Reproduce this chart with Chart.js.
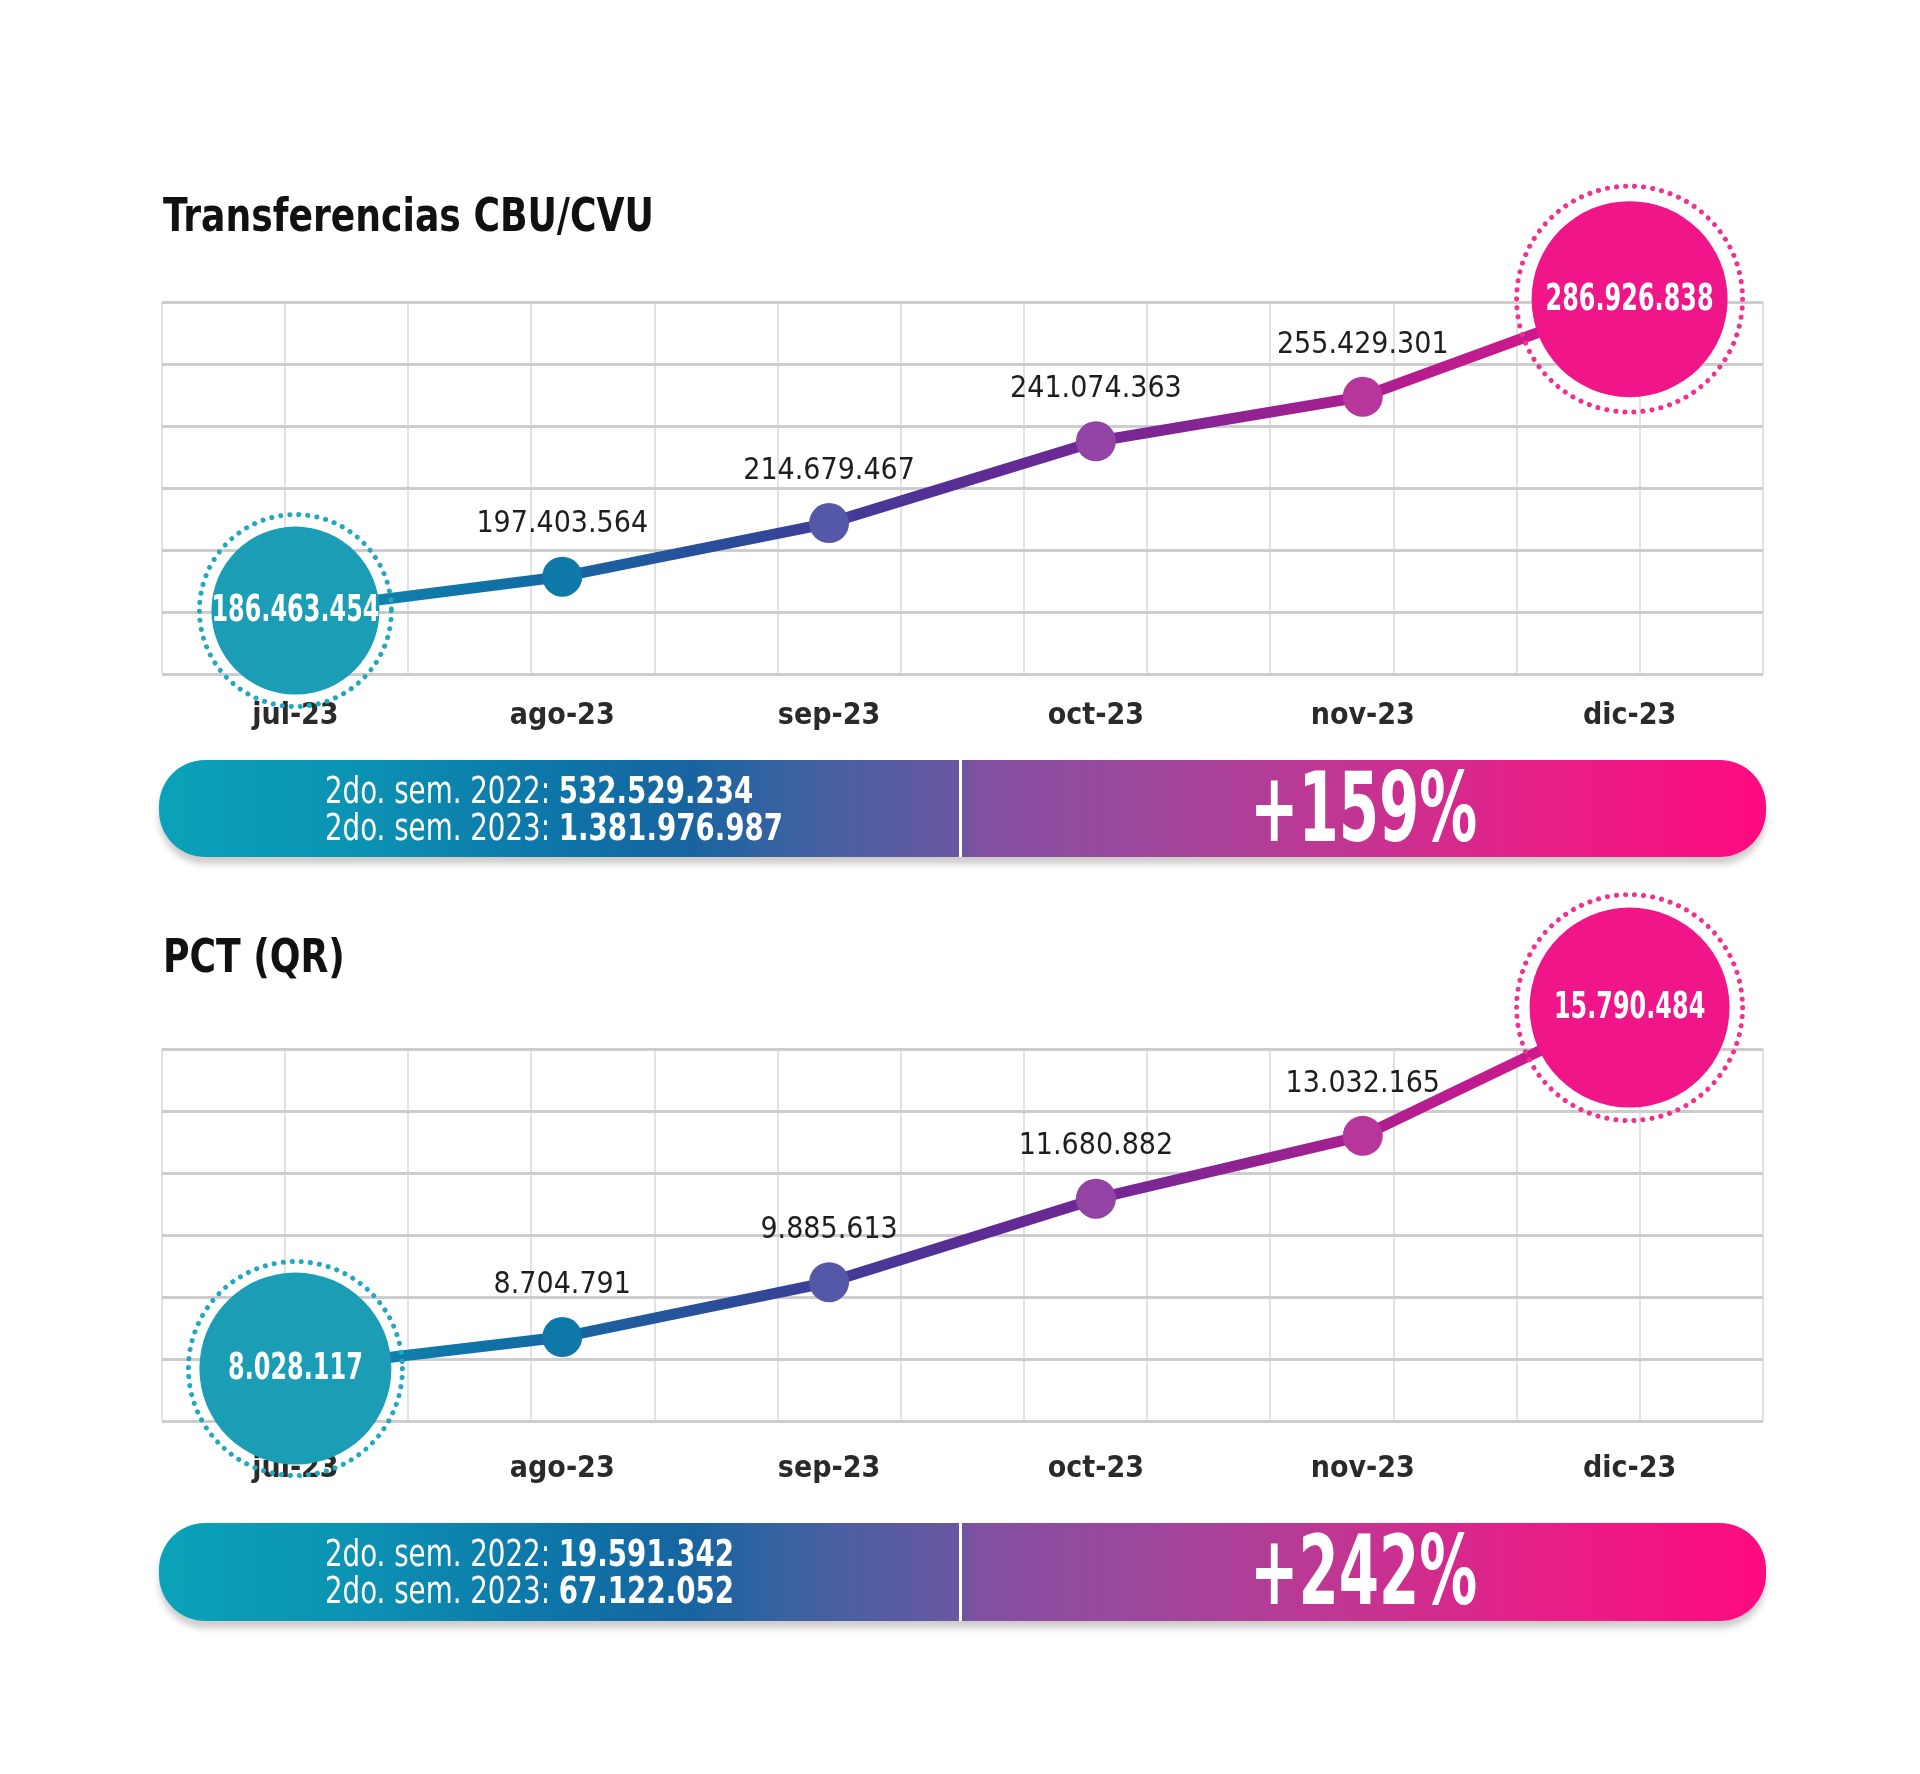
<!DOCTYPE html>
<html>
<head>
<meta charset="utf-8">
<script src="https://cdn.jsdelivr.net/npm/chart.js@4.4.1/dist/chart.umd.min.js"></script>
<style>
  html, body { margin:0; padding:0; background:#fff; }
  body { width:1920px; height:1774px; position:relative; overflow:hidden; }
  .cv { position:absolute; left:0; width:1920px; z-index:1; }
  .title { position:absolute; left:163px; z-index:3; font-family:"DejaVu Sans Condensed",sans-serif; font-weight:bold; font-size:47px; line-height:47px; color:#111; transform:scaleX(0.855); transform-origin:0 0; white-space:nowrap; }
  .banner { position:absolute; left:159px; width:1607px; border-radius:46px; z-index:3;
    background: linear-gradient(90deg, #0aa2b9 0%, #0b93b3 12%, #0e74a8 25%, #1764a0 33%, #3f62a2 40%, #6259a1 48%, #6d56a1 50%, #8350a1 51%, #9e469c 62%, #c23592 74%, #e61f88 86%, #ff0a80 100%);
    box-shadow: 0 7px 6px rgba(120,110,110,0.35); }
  .divider { position:absolute; left:800px; top:0; width:3px; height:100%; background:#fff; }
  .bl { position:absolute; left:166px; font-family:"DejaVu Sans Condensed",sans-serif; color:#fff; font-size:38px; line-height:37px; white-space:nowrap; transform:scaleX(0.81); transform-origin:0 0; }
  .bl b { font-weight:bold; }
  .pctw { position:absolute; left:803px; right:0; top:0; bottom:0; display:flex; align-items:center; justify-content:center; }
  .pct { font-family:"DejaVu Sans Condensed",sans-serif; font-weight:bold; color:#fff; font-size:96px; line-height:96px; transform:scaleX(0.67); white-space:nowrap; margin-top:-2px; }
</style>
</head>
<body>
<div class="title" style="top:191px">Transferencias CBU/CVU</div>
<div class="cv" style="top:0;height:772px"><canvas id="c1"></canvas></div>
<div class="banner" style="top:760px;height:97px">
  <div class="divider"></div>
  <div class="bl" style="top:12px">2do. sem. 2022: <b id="b1a"></b><br>2do. sem. 2023: <b id="b1b"></b></div>
  <div class="pctw"><div class="pct" id="p1"></div></div>
</div>

<div class="title" style="top:932px">PCT (QR)</div>
<div class="cv" style="top:760px;height:1014px"><canvas id="c2"></canvas></div>
<div class="banner" style="top:1523px;height:98px">
  <div class="divider"></div>
  <div class="bl" style="top:12px">2do. sem. 2022: <b id="b2a"></b><br>2do. sem. 2023: <b id="b2b"></b></div>
  <div class="pctw"><div class="pct" id="p2"></div></div>
</div>

<script>
// ---- DATA ----
const months = ["jul-23", "ago-23", "sep-23", "oct-23", "nov-23", "dic-23"];
const transferencias = [186463454, 197403564, 214679467, 241074363, 255429301, 286926838];
const pctQR = [8028117, 8704791, 9885613, 11680882, 13032165, 15790484];
const summaryTransf = ["532.529.234", "1.381.976.987", "+159%"];
const summaryPCT = ["19.591.342", "67.122.052", "+242%"];

document.getElementById('b1a').textContent = summaryTransf[0];
document.getElementById('b1b').textContent = summaryTransf[1];
document.getElementById('p1').textContent = summaryTransf[2];
document.getElementById('b2a').textContent = summaryPCT[0];
document.getElementById('b2b').textContent = summaryPCT[1];
document.getElementById('p2').textContent = summaryPCT[2];

const fmt = v => v.toLocaleString('de-DE');
const pointColors = ['#1b9db5', '#0e78a8', '#5558a6', '#9343a3', '#b6369b', '#f0168a'];
const ringColors = ['#22a8bf', '#f3308f'];

function lineGradient(ctx) {
  const chart = ctx.chart; const a = chart.chartArea;
  if (!a) return '#5a3a9a';
  const g = chart.ctx.createLinearGradient(a.left, 0, a.right, 0);
  g.addColorStop(0.00, '#15a2ba');
  g.addColorStop(0.20, '#0f72a6');
  g.addColorStop(0.36, '#2c4a98');
  g.addColorStop(0.50, '#5a2c95');
  g.addColorStop(0.62, '#7c2694');
  g.addColorStop(0.78, '#b41d8f');
  g.addColorStop(1.00, '#f8128a');
  return g;
}

const labelPlugin = {
  id: 'valueLabels',
  afterDatasetsDraw(chart, args, opts) {
    const ctx = chart.ctx;
    const meta = chart.getDatasetMeta(0);
    const data = chart.data.datasets[0].data;
    const last = data.length - 1;
    ctx.save();
    [0, last].forEach((i, k) => {
      const el = meta.data[i];
      ctx.beginPath();
      ctx.setLineDash([0.1, 9]);
      ctx.lineCap = 'round';
      ctx.lineWidth = 5;
      ctx.strokeStyle = ringColors[k];
      ctx.arc(el.x, el.y, opts.ring[k], 0, Math.PI * 2);
      ctx.stroke();
    });
    ctx.setLineDash([]);
    ctx.textAlign = 'center';
    ctx.textBaseline = 'middle';
    data.forEach((v, i) => {
      const el = meta.data[i];
      if (i === 0 || i === last) {
        ctx.save();
        ctx.font = 'bold 38px "DejaVu Sans Condensed", sans-serif';
        ctx.fillStyle = '#ffffff';
        ctx.translate(el.x, el.y + 1);
        ctx.scale(0.7, 1);
        ctx.fillText(fmt(v), 0, 0);
        ctx.restore();
      } else {
        ctx.font = '30px "DejaVu Sans Condensed", sans-serif';
        ctx.fillStyle = '#1e1e1e';
        ctx.fillText(fmt(v), el.x, el.y - 52);
      }
    });
    ctx.restore();
  }
};

function makeChart(id, values, yMin, yMax, radii, rings, pad, tickPad) {
  return new Chart(document.getElementById(id), {
    type: 'line',
    data: {
      labels: months,
      datasets: [{
        data: values,
        borderColor: lineGradient,
        borderWidth: 11,
        tension: 0,
        clip: false,
        pointRadius: radii,
        pointHoverRadius: radii,
        pointBackgroundColor: pointColors,
        pointBorderWidth: 0,
        borderCapStyle: 'round'
      }]
    },
    options: {
      responsive: true,
      maintainAspectRatio: false,
      animation: false,
      events: [],
      layout: { padding: pad },
      plugins: { legend: { display: false }, tooltip: { enabled: false }, valueLabels: { ring: rings } },
      scales: {
        x: {
          type: 'category',
          offset: true,
          grid: { display: false, drawTicks: false },
          border: { display: false },
          ticks: { color: '#2a2a2a', padding: tickPad, font: { family: '"DejaVu Sans Condensed", sans-serif', size: 30, weight: 'bold' } }
        },
        x2: {
          type: 'linear', position: 'top', min: 0, max: 13,
          ticks: { display: false, stepSize: 1 },
          grid: { color: '#e2e2e2', lineWidth: 2, drawTicks: false },
          border: { display: false }
        },
        y: {
          min: yMin, max: yMax,
          ticks: { display: false, count: 7 },
          grid: { color: '#cdcdcd', lineWidth: 3, drawTicks: false },
          border: { display: false }
        }
      }
    },
    plugins: [labelPlugin]
  });
}

makeChart('c1', transferencias, 166000000, 286000000, [84, 20, 20, 20, 20, 98], [96, 113], { left: 162, right: 157, top: 302, bottom: 9 }, 24);
makeChart('c2', pctQR, 6900000, 14900000, [96, 20, 20, 20, 20, 100], [107, 113], { left: 162, right: 157, top: 289, bottom: 257 }, 30);
</script>
</body>
</html>
